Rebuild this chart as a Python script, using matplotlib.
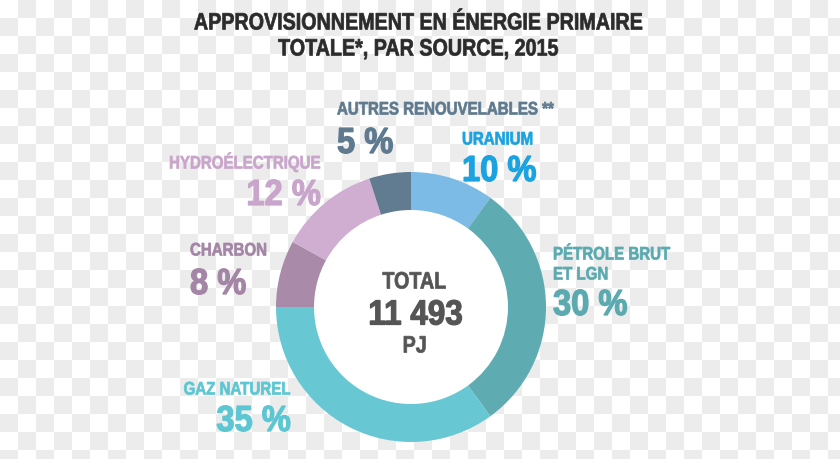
import matplotlib
matplotlib.use("Agg")
import matplotlib.pyplot as plt
from matplotlib.textpath import TextPath
from matplotlib.patches import PathPatch
from matplotlib.font_manager import FontProperties, findfont
from matplotlib.transforms import Affine2D
import numpy as np

# donnees
sources = ["URANIUM", "PÉTROLE BRUT", "GAZ NATUREL", "CHARBON", "HYDROÉLECTRIQUE", "AUTRES RENOUVELABLES **"]
parts = [10, 30, 35, 8, 12, 5]
couleurs = ["#7bbbe6", "#5eabb1", "#67c8d3", "#a98aa9", "#cfaed1", "#617b90"]
couleurs_txt = ["#1aa3e0", "#5aaab0", "#5cc6d2", "#a385a5", "#c9a5cb", "#5f7a8f"]
total = "11 493"

W, H = 840, 459
fig = plt.figure(figsize=(W / 100, H / 100), dpi=100)
fig.patch.set_facecolor("white")

# fond en damier
sq = 18
yy, xx = np.mgrid[0:H, 0:W]
damier = ((xx // sq + yy // sq) % 2).astype(float)
bg = fig.add_axes([0, 0, 1, 1])
bg.imshow(damier, cmap=matplotlib.colors.ListedColormap(["#ffffff", "#ececec"]),
          extent=[0, W, 0, H], origin="upper", aspect="auto")
bg.axis("off")

ax = fig.add_axes([0, 0, 1, 1])
ax.axis("off")
ax.patch.set_alpha(0)

cx, cy, R = 411, H - 307, 135
ax.pie(parts, colors=couleurs, startangle=90, counterclock=False,
       center=(cx, cy), radius=R, wedgeprops=dict(width=38, edgecolor="none"))
ax.add_patch(plt.Circle((cx, cy), R - 38, color="white", zorder=0))
ax.set_xlim(0, W)
ax.set_ylim(0, H)
ax.set_aspect("auto")

fp = FontProperties(fname=findfont(FontProperties(family="Liberation Sans", weight="bold")))

def t(x, y, s, cap, color, ha="left", lw=0.5, sx=0.83):
    # cap = hauteur des majuscules en pixels, y = centre vertical (depuis le haut)
    size = cap / 0.716
    tp = TextPath((0, 0), s, size=size, prop=fp)
    ext = tp.get_extents()
    w = ext.x1 * sx
    if ha == "center":
        x0 = x - w / 2
    elif ha == "right":
        x0 = x - w
    else:
        x0 = x
    tr = Affine2D().scale(sx, 1).translate(x0, H - y - cap / 2)
    ax.add_patch(PathPatch(tr.transform_path(tp), facecolor=color, edgecolor=color,
                           linewidth=lw, zorder=5))

def big(x, y, s, color, ha="left", cap=26):
    t(x, y, s, cap, color, ha=ha, lw=0.9, sx=0.9)

# titre
t(418, 21, "APPROVISIONNEMENT EN ÉNERGIE PRIMAIRE", 17, "#2b2b2b", ha="center")
t(418, 47, "TOTALE*, PAR SOURCE, 2015", 17, "#2b2b2b", ha="center")

# centre
t(cx + 3, 280, "TOTAL", 17, "#555555", ha="center")
big(cx + 4, 312, total, "#555555", ha="center", cap=25)
t(cx + 3, 344, "PJ", 17, "#555555", ha="center")

def pct(v):
    return f"{v} %"

# etiquettes
t(337, 108, sources[5], 13, couleurs_txt[5])
big(337, 140, pct(parts[5]), couleurs_txt[5])
t(462, 138, sources[0], 13, couleurs_txt[0])
big(462, 168, pct(parts[0]), couleurs_txt[0])
t(320, 162, sources[4], 13, couleurs_txt[4], ha="right")
big(320, 192, pct(parts[4]), couleurs_txt[4], ha="right")
t(190, 249, sources[3], 13, couleurs_txt[3])
big(190, 281, pct(parts[3]), couleurs_txt[3])
t(553, 253, sources[1], 13, couleurs_txt[1])
t(553, 273, "ET LGN", 13, couleurs_txt[1])
big(553, 302, pct(parts[1]), couleurs_txt[1])
t(290, 388, sources[2], 13, couleurs_txt[2], ha="right")
big(290, 418, pct(parts[2]), couleurs_txt[2], ha="right")

fig.savefig("out.png", dpi=100)
